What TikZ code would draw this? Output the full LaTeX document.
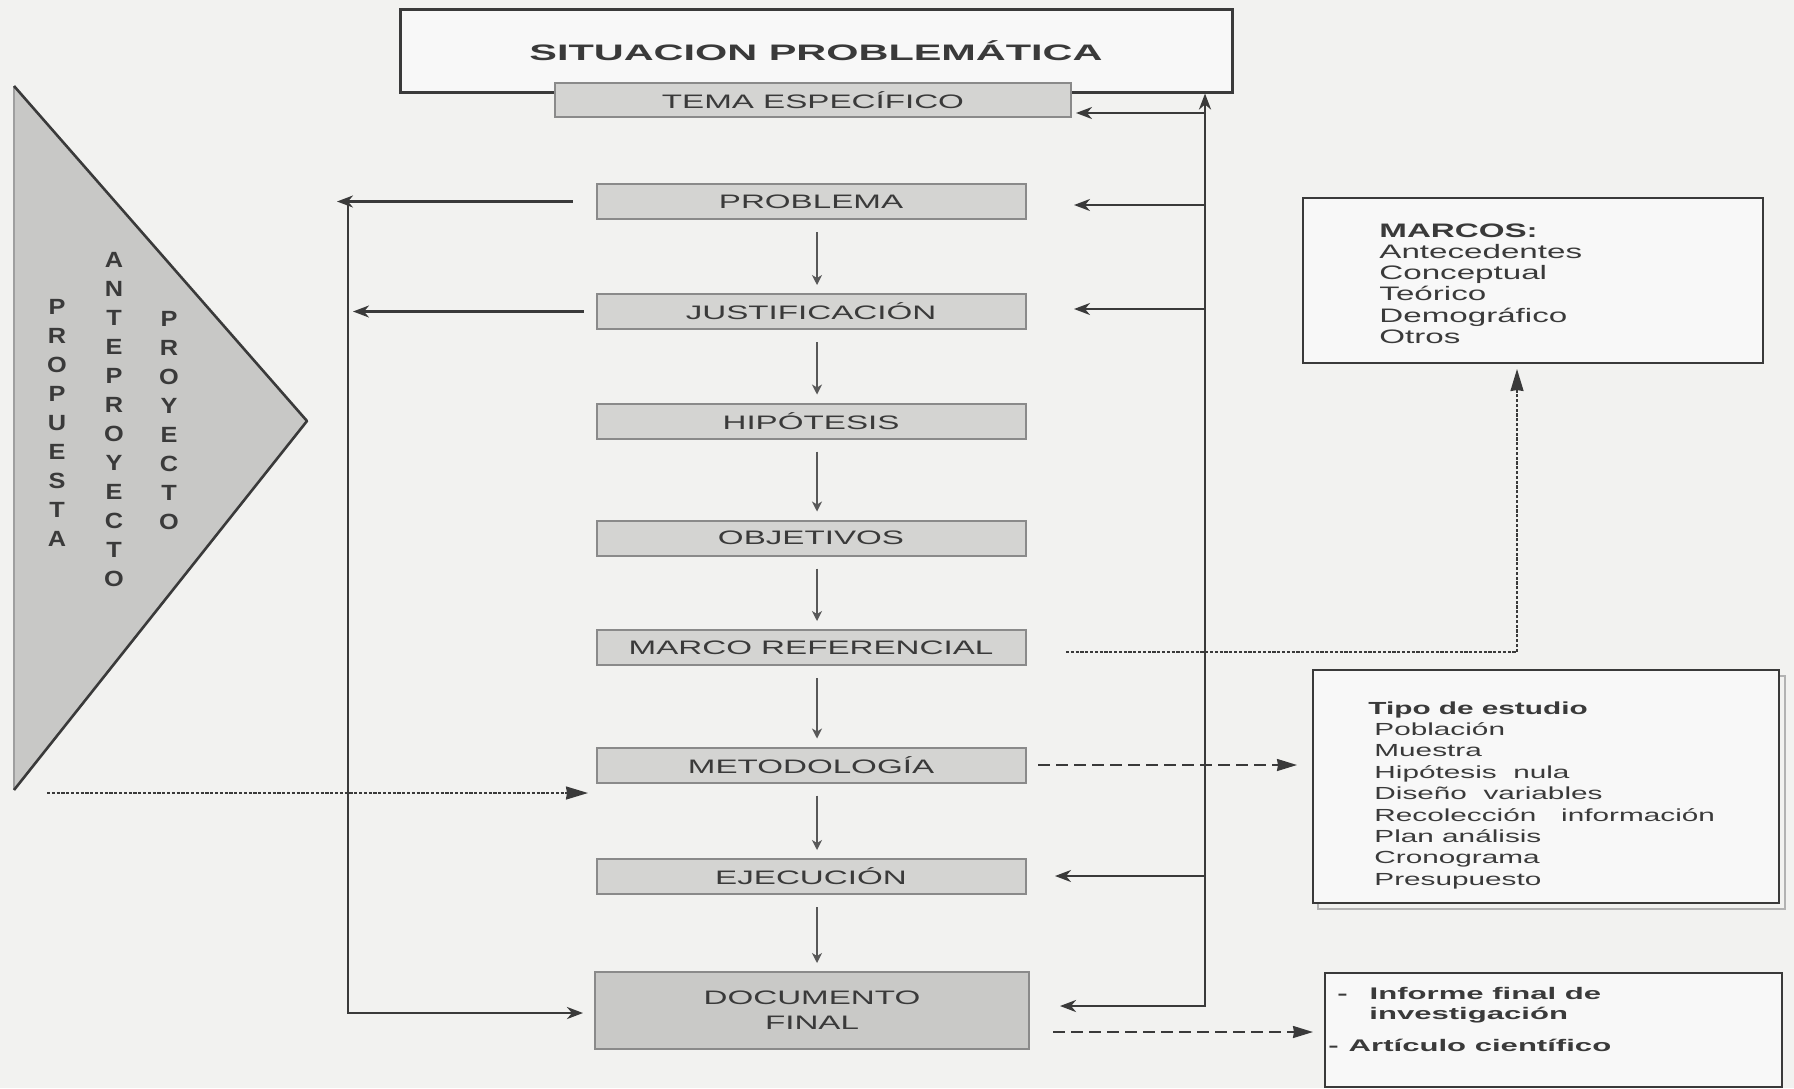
\documentclass[tikz,border=0pt]{standalone}
\usepackage{fontspec}
\setmainfont{Liberation Sans}
\newfontfamily\wf[FakeStretch=1.7]{Liberation Sans}
\newfontfamily\wfb[FakeStretch=1.85]{Liberation Sans}
\newfontfamily\tf[FakeStretch=1.15]{Liberation Sans}
\usetikzlibrary{arrows.meta}
\definecolor{bg}{HTML}{F2F2F0}
\definecolor{ink}{HTML}{3A3A3A}
\definecolor{boxfill}{HTML}{D4D4D2}
\definecolor{boxedge}{HTML}{8A8A8A}
\definecolor{docfill}{HTML}{C9C9C7}
\definecolor{trifill}{HTML}{C8C8C6}
\begin{document}
\begin{tikzpicture}[x=0.5pt,y=-0.5pt,
  gbox/.style={draw=boxedge, line width=1pt, fill=boxfill, text=ink, inner sep=0pt,
    minimum width=214.5pt, minimum height=17.5pt, font=\wf\fontsize{9.75}{11}\selectfont},
  tri/.style={text=ink, align=center, inner sep=0pt, font=\tf\bfseries\fontsize{11}{14.5}\selectfont},
  down/.style={draw=ink!85, line width=0.6pt, -{Stealth[length=5pt,width=5pt,inset=1.5pt]}},
  fb/.style={draw=ink, line width=1.1pt, -{Stealth[length=8pt,width=6pt,inset=2.5pt]}},
  dotl/.style={draw=ink, line width=0.9pt, dash pattern=on 1.6pt off 0.8pt, -{Stealth[length=11pt,width=6.5pt,inset=0.5pt]}},
  dashl/.style={draw=ink, line width=0.9pt, dash pattern=on 6pt off 3pt, -{Stealth[length=10pt,width=6pt,inset=0.5pt]}},
  sidebox/.style={draw=ink, line width=1.4pt, fill=white!50!bg, inner sep=0pt},
  sidetxt/.style={text=ink, align=left, inner sep=0pt, anchor=north west}
]
\fill[bg] (0,0) rectangle (1794,1088);
\useasboundingbox (0,0) rectangle (1794,1088);

% ---- triangle
\fill[trifill] (14,86) -- (307,421) -- (14,790) -- cycle;
\draw[gray!75, line width=0.8pt] (14,86) -- (14,790);
\draw[ink, line width=1.3pt, line join=round] (14,86) -- (307,421) -- (14,790);
\node[tri] (propuesta) at (57,422.5) {P\\R\\O\\P\\U\\E\\S\\T\\A};
\node[tri] (ante) at (114,419.5) {A\\N\\T\\E\\P\\R\\O\\Y\\E\\C\\T\\O};
\node[tri] (proy) at (169,420.5) {P\\R\\O\\Y\\E\\C\\T\\O};

% ---- main column
\node[draw=ink, line width=1.5pt, fill=white!50!bg, minimum width=416pt, minimum height=41.5pt,
  inner sep=0pt, text=ink, font=\wfb\bfseries\fontsize{11.2}{13}\selectfont] (situ) at (816,50.5) {SITUACION PROBLEMÁTICA};
\node[gbox, minimum width=258pt, minimum height=17pt] (tema) at (813,100) {TEMA ESPECÍFICO};
\node[gbox] (prob)  at (811,201.5) {PROBLEMA};
\node[gbox] (just)  at (811,311.5) {JUSTIFICACIÓN};
\node[gbox] (hipo)  at (811,421)   {HIPÓTESIS};
\node[gbox] (obj)   at (811,538)   {OBJETIVOS};
\node[gbox] (marco) at (811,647.5) {MARCO REFERENCIAL};
\node[gbox] (meto)  at (811,765)   {METODOLOGÍA};
\node[gbox] (ejec)  at (811,876.5) {EJECUCIÓN};
\node[gbox, fill=docfill, minimum width=217pt, minimum height=38.5pt, align=center,
  font=\wf\fontsize{9.75}{12.5}\selectfont] (doc) at (812,1010.5) {DOCUMENTO\\FINAL};

\foreach \a/\b in {prob/just, just/hipo, hipo/obj, obj/marco, marco/meto, meto/ejec, ejec/doc}
  \draw[down] ([shift={(3pt,-6pt)}]\a.south) -- ([shift={(3pt,4pt)}]\a.south |- \b.north);

% ---- right side boxes
\node[sidebox, minimum width=230pt, minimum height=82.5pt] (marcos) at (1533,280.5) {};
\node[sidetxt, font=\wf\fontsize{9.75}{10.65}\selectfont] (marcostxt) at (1379,223)
  {\textbf{MARCOS:}\\Antecedentes\\Conceptual\\Teórico\\Demográfico\\Otros};

\draw[gray!60, line width=0.6pt] (1318,676) rectangle (1785,909);
\node[sidebox, minimum width=233pt, minimum height=116.5pt] (tipo) at (1546,786.5) {};
\node[sidetxt, font=\wf\fontsize{8.75}{10.7}\selectfont] (tipotxt) at (1368,701)
  {\textbf{Tipo de estudio}\\\hspace*{3pt}Población\\\hspace*{3pt}Muestra\\\hspace*{3pt}Hipótesis\ \ nula\\
   \hspace*{3pt}Diseño\ \ variables\\\hspace*{3pt}Recolección\ \ \ información\\\hspace*{3pt}Plan análisis\\
   \hspace*{3pt}Cronograma\\\hspace*{3pt}Presupuesto};

\node[sidebox, line width=1.2pt, minimum width=228.5pt, minimum height=57pt] (inf) at (1553.5,1030) {};
\node[sidetxt, font=\wfb\bfseries\fontsize{8.4}{10}\selectfont] (inftxt) at (1328,987)
  {\hspace*{4.5pt}-\hspace{11pt}Informe final de\\\hspace*{20.5pt}investigación\\[6pt]-\hspace{5pt}Artículo científico};

% ---- right feedback line
\coordinate (rb) at (1205,1006);
\coordinate (rt) at (situ.south -| rb);
\coordinate (dr) at (1060,1006);
\draw[fb, line width=1.4pt, {Stealth[length=8pt,width=6pt,inset=2.5pt]}-{Stealth[length=8pt,width=6pt,inset=2.5pt]}, line join=miter]
  (dr) -- (rb) -- (rt);
\coordinate (r1) at (1205,113);  \coordinate (t1) at (1076,113);
\coordinate (r2) at (1205,205);  \coordinate (t2) at (1074,205);
\coordinate (r3) at (1205,309);  \coordinate (t3) at (1074,309);
\coordinate (r4) at (1205,876);  \coordinate (t4) at (1055,876);
\draw[fb] (r1) -- (t1);
\draw[fb] (r2) -- (t2);
\draw[fb] (r3) -- (t3);
\draw[fb] (r4) -- (t4);

% ---- left feedback line
\coordinate (l1) at (348,201.5);
\coordinate (l2) at (348,1013);
\coordinate (ldt) at (583,1013);
\coordinate (ptip) at (337,201.5);
\coordinate (jtip) at (353,311.5);
\draw[fb] ([xshift=-11.5pt]prob.west) -- (ptip);
\draw[fb] ([xshift=-6pt]just.west) -- (jtip);
\draw[fb, line width=1.4pt, line join=miter] (l1) -- (l2) -- (ldt);

% ---- dotted / dashed connectors
\coordinate (ds) at (47,793);
\coordinate (dt) at (588,793);
\draw[dotl] (ds) -- (dt);

\coordinate (ms) at (1066,652);
\coordinate (mc) at (1517,652);
\coordinate (mt) at (1517,369);
\draw[dotl] (ms) -- (mc) -- (mt);

\coordinate (es) at (1038,765);
\coordinate (et) at (1297,765);
\draw[dashl] (es) -- (et);

\coordinate (fs) at (1053,1032);
\coordinate (ft) at (1313,1032);
\draw[dashl] (fs) -- (ft);
\end{tikzpicture}
\end{document}
